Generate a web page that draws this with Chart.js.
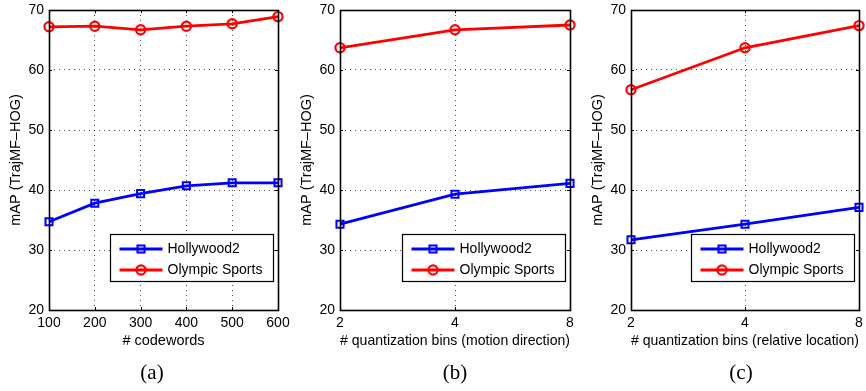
<!DOCTYPE html>
<html>
<head>
<meta charset="utf-8">
<script src="https://cdn.jsdelivr.net/npm/chart.js@4.4.1/dist/chart.umd.min.js"></script>
<style>
  html, body { margin: 0; padding: 0; background: #fff; }
  body { width: 866px; height: 391px; position: relative; overflow: hidden; }
  canvas { position: absolute; top: 0; }
  .cap { position: absolute; top: 359px; font-family: "Liberation Serif", "DejaVu Serif", serif; font-size: 21px; color: #000; transform: translateX(-50%); line-height: 26px; }
</style>
</head>
<body>
<canvas id="ca" width="290" height="391" style="left:0px"></canvas>
<canvas id="cb" width="290" height="391" style="left:291px"></canvas>
<canvas id="cc" width="284" height="391" style="left:582px"></canvas>
<div class="cap" style="left:152px">(a)</div>
<div class="cap" style="left:455px">(b)</div>
<div class="cap" style="left:741px">(c)</div>
<script>
// ---- data ----
const seriesNames = ['Hollywood2', 'Olympic Sports'];
const catsA = ['100', '200', '300', '400', '500', '600'];
const holA = [34.7, 37.8, 39.4, 40.7, 41.2, 41.2];
const olyA = [67.2, 67.3, 66.7, 67.3, 67.7, 68.9];
const catsB = ['2', '4', '8'];
const holB = [34.3, 39.3, 41.1];
const olyB = [63.7, 66.7, 67.5];
const catsC = ['2', '4', '8'];
const holC = [31.7, 34.3, 37.1];
const olyC = [56.7, 63.7, 67.4];
const yMin = 20, yMax = 70, yStep = 10;
const yTitle = 'mAP (TrajMF\u2013HOG)';
const xTitles = ['# codewords', '# quantization bins (motion direction)', '# quantization bins (relative location)'];

const FONT = '"Liberation Sans", Arial, Helvetica, sans-serif';

const boxPlugin = {
  id: 'matlabBox',
  afterDraw(chart) {
    const {ctx, chartArea: a, scales} = chart;
    ctx.save();
    // inward tick marks
    ctx.strokeStyle = '#000';
    ctx.lineWidth = 1;
    ctx.beginPath();
    const tl = 3;
    scales.y.ticks.forEach((t) => {
      const py = Math.round(scales.y.getPixelForValue(t.value)) + 0.5;
      ctx.moveTo(a.left, py); ctx.lineTo(a.left + tl, py);
      ctx.moveTo(a.right, py); ctx.lineTo(a.right - tl, py);
    });
    scales.x.ticks.forEach((t, i) => {
      const px = Math.round(scales.x.getPixelForTick(i)) + 0.5;
      ctx.moveTo(px, a.top); ctx.lineTo(px, a.top + tl);
      ctx.moveTo(px, a.bottom); ctx.lineTo(px, a.bottom - tl);
    });
    ctx.stroke();
    // box
    ctx.lineWidth = 1.6;
    ctx.strokeRect(Math.round(a.left) + 0.5, Math.round(a.top) + 0.5, Math.round(a.right - a.left), Math.round(a.bottom - a.top));
    // legend
    const w = 163, h = 47;
    const bx = Math.round(a.right - 5 - w) + 0.5;
    const by = Math.round(a.bottom - 29 - h) + 0.5;
    ctx.fillStyle = '#fff';
    ctx.fillRect(bx, by, w, h);
    ctx.lineWidth = 1.2;
    ctx.strokeStyle = '#000';
    ctx.strokeRect(bx, by, w, h);
    const rows = [14.5, 35.5];
    chart.data.datasets.forEach((ds, i) => {
      const y = by + rows[i];
      ctx.strokeStyle = ds.borderColor;
      ctx.lineWidth = ds.borderWidth;
      ctx.beginPath();
      ctx.moveTo(bx + 9, y); ctx.lineTo(bx + 52, y);
      ctx.stroke();
      ctx.lineWidth = ds.pointBorderWidth;
      if (ds.pointStyle === 'rect') {
        const s = ds.pointRadius * Math.SQRT1_2;
        ctx.strokeRect(bx + 30.5 - s, y - s, 2 * s, 2 * s);
      } else {
        ctx.beginPath();
        ctx.arc(bx + 30.5, y, ds.pointRadius, 0, Math.PI * 2);
        ctx.stroke();
      }
      ctx.fillStyle = '#000';
      ctx.font = '14px ' + FONT;
      ctx.textBaseline = 'middle';
      ctx.textAlign = 'left';
      ctx.fillText(ds.label, bx + 57, y + 0.5);
    });
    ctx.restore();
  }
};

function makeChart(id, cats, hol, oly, xTitle, padRight) {
  const ctx = document.getElementById(id).getContext('2d');
  return new Chart(ctx, {
    type: 'line',
    data: {
      labels: cats,
      datasets: [
        { label: seriesNames[0], data: hol, borderColor: '#0000ff', backgroundColor: 'transparent',
          borderWidth: 2.8, pointStyle: 'rect', pointRadius: 5, pointBorderWidth: 2,
          pointBackgroundColor: 'transparent', pointBorderColor: '#0000ff', clip: false, tension: 0 },
        { label: seriesNames[1], data: oly, borderColor: '#ff0000', backgroundColor: 'transparent',
          borderWidth: 2.8, pointStyle: 'circle', pointRadius: 4.6, pointBorderWidth: 2.2,
          pointBackgroundColor: 'transparent', pointBorderColor: '#ff0000', clip: false, tension: 0 }
      ]
    },
    options: {
      responsive: false,
      animation: false,
      devicePixelRatio: 1,
      layout: { padding: { left: 0, right: padRight, top: 10, bottom: 36 } },
      plugins: { legend: { display: false }, tooltip: { enabled: false }, title: { display: false } },
      scales: {
        x: {
          type: 'category',
          offset: false,
          grid: { display: true, drawTicks: false, color: 'rgba(0,0,0,0.7)', lineWidth: 1 },
          border: { display: false, dash: [1, 4] },
          ticks: { color: '#000', font: { family: FONT, size: 14 }, padding: 5, autoSkip: false, maxRotation: 0, minRotation: 0 },
          title: { display: true, text: xTitle, color: '#000', font: { family: FONT, size: 14.5 }, padding: { top: 0, bottom: 5 } },
          afterFit(s) { s.height = 45; s.paddingLeft = 0; s.paddingRight = 0; }
        },
        y: {
          min: yMin, max: yMax,
          grid: { display: true, drawTicks: false, color: 'rgba(0,0,0,0.7)', lineWidth: 1 },
          border: { display: false, dash: [1, 4] },
          ticks: { stepSize: yStep, color: '#000', font: { family: FONT, size: 14 }, padding: 5 },
          title: { display: true, text: yTitle, color: '#000', font: { family: FONT, size: 14.5 }, padding: { top: 7, bottom: 0 } },
          afterFit(s) { s.width = 49; s.paddingTop = 0; s.paddingBottom = 0; }
        }
      }
    },
    plugins: [boxPlugin]
  });
}

makeChart('ca', catsA, holA, olyA, xTitles[0], 12);
makeChart('cb', catsB, holB, olyB, xTitles[1], 11);
makeChart('cc', catsC, holC, olyC, xTitles[2], 5);
</script>
</body>
</html>
